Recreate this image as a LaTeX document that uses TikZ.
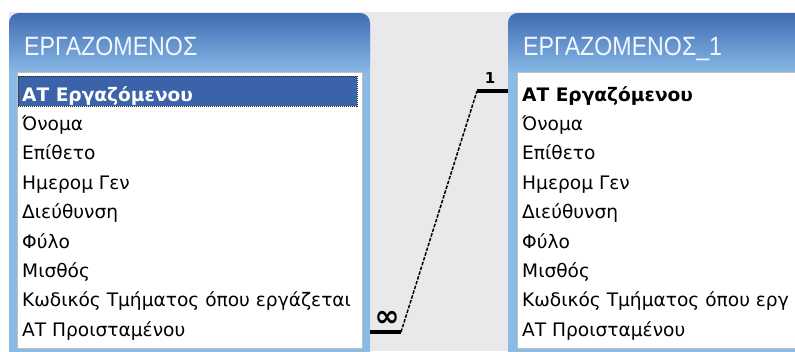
\documentclass[tikz,border=0pt]{standalone}
\usepackage{fontspec}
\setmainfont{DejaVu Sans}
\newfontfamily\captionfont{Liberation Sans}
\usetikzlibrary{positioning}

\definecolor{paneGray}{HTML}{E9E9EC}
\definecolor{barDark}{HTML}{3F6CB4}
\definecolor{frameBlue}{HTML}{8ABAE6}
\definecolor{selBlue}{HTML}{3B63A9}
\definecolor{capWhite}{HTML}{F0F7FF}

\begin{document}
\begin{tikzpicture}[
    x=1pt, y=-1pt,
    field/.style={anchor=base west, inner sep=0pt, font=\fontsize{18.6}{20}\selectfont},
    keyfield/.style={field, font=\fontsize{18.6}{20}\selectfont\bfseries},
    rowafter/.style={below=29.4pt of #1.base west, anchor=base west},
    caption/.style={anchor=base west, inner sep=0pt, text=capWhite, xscale=.875,
      font=\captionfont\fontsize{26.5}{28}\selectfont},
    link/.style={line width=1.5pt, dash pattern=on 3.5pt off 1.5pt},
    card/.style={line width=4pt},
    cardlbl/.style={inner sep=0pt},
  ]
  \useasboundingbox (0,0) rectangle (795,351);
  \clip (0,0) rectangle (795,351);
  \fill[paneGray] (9,12) rectangle (795,351);

  % left table window
  \fill[frameBlue, rounded corners=10pt] (9,13) rectangle (370,380);
  \shade[top color=barDark, bottom color=frameBlue, rounded corners=10pt] (9,13) rectangle (370,74);
  \fill[white] (17,72) rectangle (362,348);
  \draw[gray!50, line width=.8pt] (17,72) rectangle (362,348);
  \fill[selBlue] (18,76) rectangle (357,106);
  \draw[black!85, densely dotted, line width=1pt] (18,76) rectangle (357,106);

  % right table window
  \fill[frameBlue, rounded corners=10pt] (508,13) rectangle (830,380);
  \shade[top color=barDark, bottom color=frameBlue, rounded corners=10pt] (508,13) rectangle (830,74);
  \fill[white] (517,72) rectangle (830,348);
  \draw[gray!50, line width=.8pt] (517,72) rectangle (830,348);

  \node[caption] (ltitle) at (24,55) {ΕΡΓΑΖΟΜΕΝΟΣ};
  \node[caption] (rtitle) at (523,55) {ΕΡΓΑΖΟΜΕΝΟΣ\_1};

  % fields of ΕΡΓΑΖΟΜΕΝΟΣ
  \node[keyfield, text=white] (l1) at (22,101) {ΑΤ Εργαζόμενου};
  \node[field, rowafter=l1] (l2) {Όνομα};
  \node[field, rowafter=l2] (l3) {Επίθετο};
  \node[field, rowafter=l3] (l4) {Ημερομ Γεν};
  \node[field, rowafter=l4] (l5) {Διεύθυνση};
  \node[field, rowafter=l5] (l6) {Φύλο};
  \node[field, rowafter=l6] (l7) {Μισθός};
  \node[field, rowafter=l7] (l8) {Κωδικός Τμήματος όπου εργάζεται};
  \node[field, rowafter=l8] (l9) {ΑΤ Προισταμένου};

  % fields of ΕΡΓΑΖΟΜΕΝΟΣ_1
  \node[keyfield] (r1) at (522,101) {ΑΤ Εργαζόμενου};
  \node[field, rowafter=r1] (r2) {Όνομα};
  \node[field, rowafter=r2] (r3) {Επίθετο};
  \node[field, rowafter=r3] (r4) {Ημερομ Γεν};
  \node[field, rowafter=r4] (r5) {Διεύθυνση};
  \node[field, rowafter=r5] (r6) {Φύλο};
  \node[field, rowafter=r6] (r7) {Μισθός};
  \node[field, rowafter=r7] (r8) {Κωδικός Τμήματος όπου εργ};
  \node[field, rowafter=r8] (r9) {ΑΤ Προισταμένου};

  % self relationship: many side on ΑΤ Προισταμένου, one side on ΑΤ Εργαζόμενου
  \coordinate (manyside) at (370,332);
  \coordinate (manybend) at (401,332);
  \coordinate (onebend) at (477,91);
  \coordinate (oneside) at (508,91);
  \draw[card] (manyside) -- (manybend);
  \draw[link] (manybend) -- (onebend);
  \draw[card] (onebend) -- (oneside);
  \node[cardlbl, font=\bfseries\fontsize{30}{30}\selectfont] (many) at (387,319) {∞};
  \node[cardlbl, font=\bfseries\fontsize{15}{15}\selectfont] (one) at (490,78) {1};
\end{tikzpicture}
\end{document}
